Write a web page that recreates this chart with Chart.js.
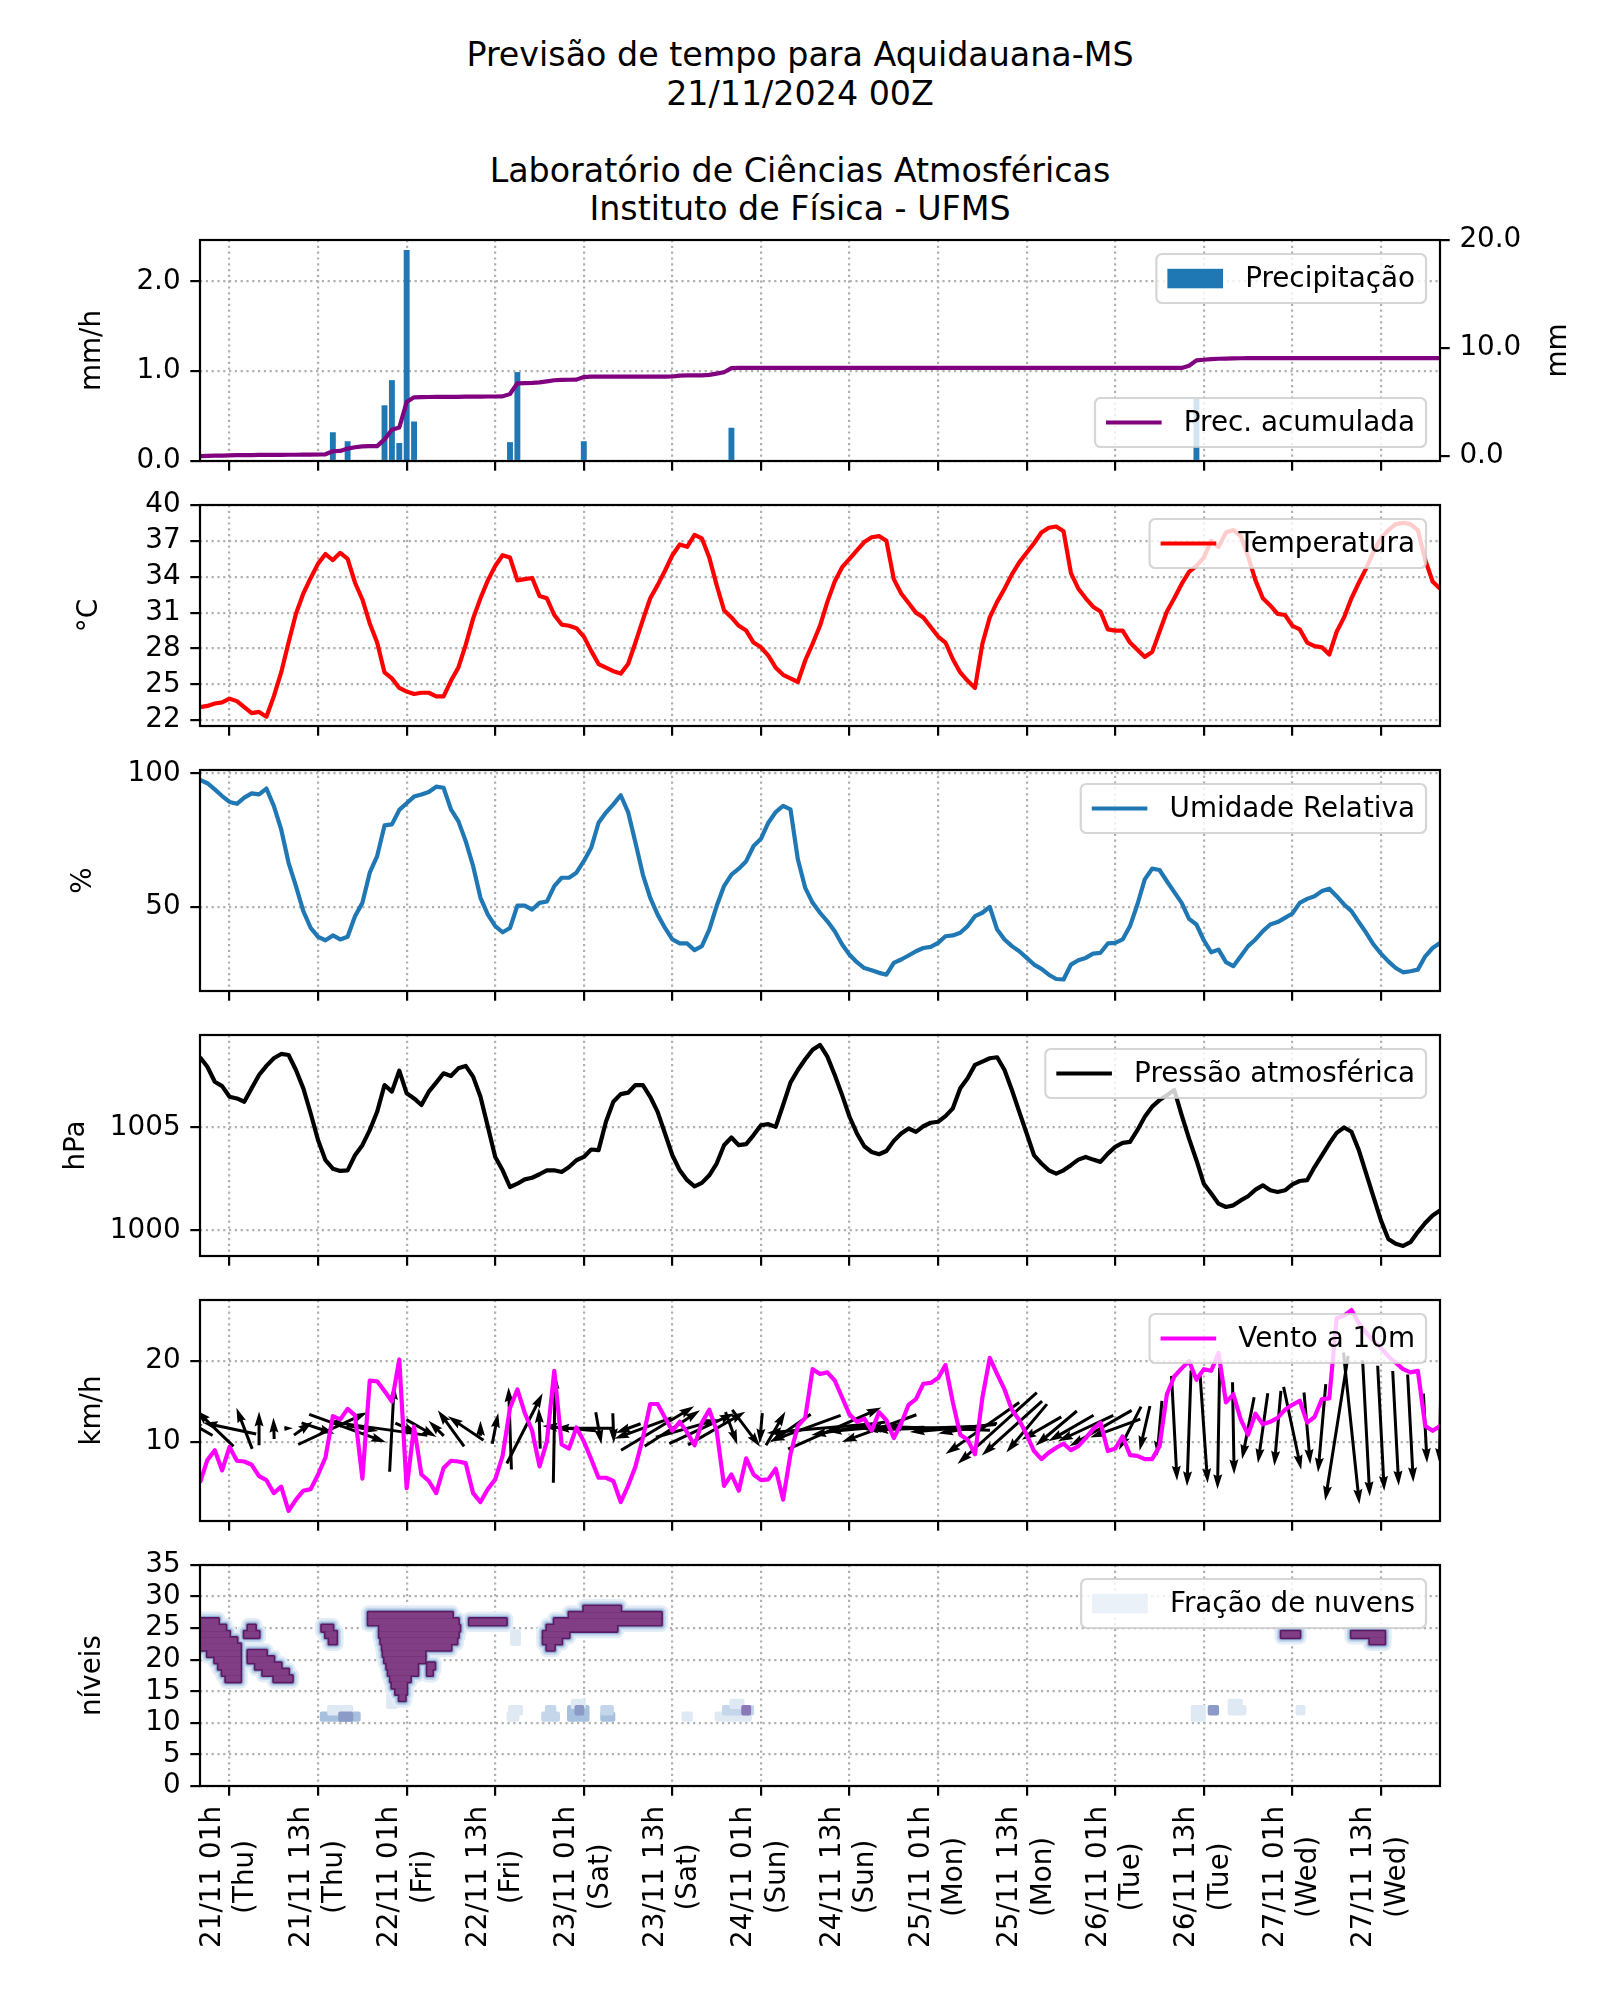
<!DOCTYPE html>
<html lang="pt-BR">
<head>
<meta charset="utf-8">
<title>Previsão de tempo para Aquidauana-MS</title>
<script src="https://cdn.jsdelivr.net/npm/chart.js@4.4.1/dist/chart.umd.min.js"></script>
<style>
  html, body { margin: 0; background: #fff; }
  #fig { position: relative; width: 1600px; height: 2000px; background: #fff; overflow: hidden; }
  #suptitle { position: absolute; left: 0; top: 36px; width: 1600px; text-align: center;
              font-family: 'DejaVu Sans', sans-serif; font-size: 33.3px; line-height: 38.5px;
              white-space: pre; color: #000; }
  #fig canvas { position: absolute; left: 0; }
</style>
</head>
<body>
<div id="fig">
<div id="suptitle">Previsão de tempo para Aquidauana-MS
21/11/2024 00Z

Laboratório de Ciências Atmosféricas
Instituto de Física - UFMS</div>
</div>
<script>
'use strict';

// horas desde 20/11 21h (hora local), passo horário
const horas = Array.from({ length: 169 }, (_, i) => i);

const tickHoras = [4, 16, 28, 40, 52, 64, 76, 88, 100, 112, 124, 136, 148, 160];
const tickDatas = ['21/11 01h', '21/11 13h', '22/11 01h', '22/11 13h', '23/11 01h', '23/11 13h',
  '24/11 01h', '24/11 13h', '25/11 01h', '25/11 13h', '26/11 01h', '26/11 13h', '27/11 01h', '27/11 13h'];
const tickDias = ['(Thu)', '(Thu)', '(Fri)', '(Fri)', '(Sat)', '(Sat)', '(Sun)', '(Sun)',
  '(Mon)', '(Mon)', '(Tue)', '(Tue)', '(Wed)', '(Wed)'];

// precipitação (mm/h), só as horas com chuva
const precipHoras = [18, 20, 25, 26, 27, 28, 29, 42, 43, 52, 72, 135];
const precipTaxa = [0.32, 0.22, 0.62, 0.90, 0.20, 2.35, 0.44, 0.21, 0.99, 0.22, 0.37, 0.69];

// precipitação acumulada (mm)
const precipAcum = [
  0.00, 0.02, 0.04, 0.05, 0.07, 0.09, 0.10, 0.10, 0.11, 0.11,
  0.12, 0.12, 0.13, 0.13, 0.14, 0.14, 0.15, 0.17, 0.45, 0.48,
  0.70, 0.82, 0.90, 0.92, 0.93, 1.55, 2.45, 2.65, 5.00, 5.44,
  5.46, 5.47, 5.48, 5.48, 5.48, 5.49, 5.50, 5.50, 5.51, 5.52,
  5.52, 5.53, 5.75, 6.74, 6.76, 6.78, 6.82, 6.92, 7.02, 7.06,
  7.07, 7.08, 7.32, 7.35, 7.35, 7.35, 7.35, 7.35, 7.35, 7.35,
  7.35, 7.35, 7.36, 7.36, 7.37, 7.45, 7.48, 7.48, 7.48, 7.52,
  7.64, 7.76, 8.14, 8.16, 8.16, 8.16, 8.16, 8.16, 8.16, 8.16,
  8.16, 8.16, 8.16, 8.16, 8.16, 8.16, 8.16, 8.16, 8.16, 8.16,
  8.16, 8.16, 8.16, 8.16, 8.16, 8.16, 8.16, 8.16, 8.16, 8.16,
  8.16, 8.16, 8.16, 8.16, 8.16, 8.16, 8.16, 8.16, 8.16, 8.16,
  8.16, 8.16, 8.16, 8.16, 8.16, 8.16, 8.16, 8.16, 8.16, 8.16,
  8.16, 8.16, 8.16, 8.16, 8.16, 8.16, 8.16, 8.16, 8.16, 8.16,
  8.16, 8.16, 8.16, 8.16, 8.36, 8.86, 8.92, 8.97, 9.01, 9.03,
  9.05, 9.06, 9.07, 9.07, 9.07, 9.07, 9.07, 9.07, 9.07, 9.07,
  9.07, 9.07, 9.07, 9.07, 9.07, 9.07, 9.07, 9.07, 9.07, 9.07,
  9.07, 9.07, 9.07, 9.07, 9.07, 9.07, 9.07, 9.07, 9.07
];

const temperatura = [
  23.1, 23.2, 23.4, 23.5, 23.8, 23.6, 23.1, 22.6, 22.7, 22.3,
  24.0, 26.0, 28.5, 30.9, 32.6, 33.9, 35.1, 35.9, 35.4, 36.0,
  35.5, 33.5, 32.1, 30.1, 28.5, 26.0, 25.5, 24.7, 24.4, 24.2,
  24.3, 24.3, 24.0, 24.0, 25.3, 26.4, 28.3, 30.5, 32.2, 33.7,
  34.9, 35.8, 35.6, 33.7, 33.8, 33.9, 32.4, 32.2, 30.8, 30.0,
  29.9, 29.7, 29.0, 27.8, 26.7, 26.4, 26.1, 25.9, 26.7, 28.5,
  30.4, 32.2, 33.3, 34.5, 35.8, 36.7, 36.5, 37.5, 37.2, 35.6,
  33.3, 31.2, 30.6, 29.9, 29.5, 28.5, 28.1, 27.4, 26.4, 25.8,
  25.5, 25.2, 27.0, 28.4, 29.9, 31.9, 33.6, 34.8, 35.5, 36.2,
  36.9, 37.3, 37.4, 37.0, 33.8, 32.6, 31.8, 31.0, 30.6, 29.8,
  29.0, 28.5, 27.1, 26.0, 25.3, 24.7, 28.4, 30.6, 31.9, 33.0,
  34.2, 35.2, 36.0, 36.8, 37.7, 38.1, 38.2, 37.8, 34.3, 33.0,
  32.2, 31.5, 31.1, 29.6, 29.5, 29.5, 28.5, 27.9, 27.3, 27.7,
  29.4, 31.1, 32.2, 33.4, 34.4, 34.9, 35.6, 37.0, 36.5, 37.7,
  37.9, 37.4, 35.7, 33.7, 32.2, 31.6, 30.9, 30.8, 29.9, 29.6,
  28.5, 28.2, 28.1, 27.5, 29.4, 30.6, 32.2, 33.5, 34.7, 36.1,
  37.2, 37.9, 38.4, 38.5, 38.4, 37.9, 35.4, 33.6, 33.0
];

const umidade = [
  97.5, 96.3, 94.0, 91.5, 89.3, 88.6, 90.9, 92.5, 92.1, 94.3,
  87.8, 79.0, 66.5, 57.8, 48.4, 42.1, 38.8, 37.5, 39.3, 37.8,
  38.8, 46.5, 51.5, 62.8, 69.0, 80.5, 80.9, 86.3, 88.8, 91.3,
  92.1, 93.0, 95.0, 94.6, 86.5, 82.1, 74.6, 65.3, 53.4, 47.1,
  42.8, 40.5, 42.1, 50.5, 50.5, 49.0, 51.5, 52.0, 57.8, 60.9,
  60.9, 62.8, 67.1, 72.1, 81.5, 85.3, 88.4, 91.8, 85.5, 74.0,
  62.1, 53.4, 47.1, 42.1, 37.8, 36.3, 36.3, 33.8, 35.3, 41.5,
  50.3, 57.8, 62.1, 64.3, 67.1, 72.8, 75.5, 81.5, 85.5, 87.8,
  86.5, 67.8, 57.1, 51.5, 47.8, 44.6, 40.9, 35.9, 32.1, 29.3,
  27.1, 26.3, 25.3, 24.6, 29.0, 30.3, 31.8, 33.4, 34.6, 35.0,
  36.5, 39.0, 39.3, 40.3, 42.8, 46.5, 47.8, 50.0, 41.5, 37.8,
  35.3, 33.4, 30.9, 28.4, 26.8, 24.6, 23.0, 22.8, 28.4, 30.0,
  30.9, 32.5, 32.8, 36.3, 36.5, 37.8, 42.8, 50.9, 60.3, 64.3,
  63.8, 59.6, 55.5, 51.5, 45.5, 43.4, 37.5, 33.0, 34.0, 29.3,
  27.8, 31.5, 35.3, 37.8, 40.9, 43.4, 44.3, 45.9, 47.5, 51.5,
  53.0, 54.0, 55.9, 56.8, 54.0, 50.9, 48.4, 44.3, 40.3, 35.9,
  32.5, 29.6, 27.1, 25.5, 25.9, 26.5, 31.5, 34.6, 36.5
];

const pressao = [
  1008.41, 1007.95, 1007.22, 1007.01, 1006.49, 1006.41, 1006.25, 1006.90, 1007.55, 1007.99,
  1008.36, 1008.57, 1008.52, 1007.79, 1006.90, 1005.68, 1004.38, 1003.41, 1003.00, 1002.89,
  1002.92, 1003.65, 1004.14, 1004.87, 1005.76, 1007.06, 1006.74, 1007.76, 1006.66, 1006.41,
  1006.09, 1006.74, 1007.18, 1007.63, 1007.50, 1007.87, 1007.99, 1007.47, 1006.49, 1005.03,
  1003.57, 1002.92, 1002.11, 1002.27, 1002.48, 1002.56, 1002.73, 1002.92, 1002.92, 1002.84,
  1003.08, 1003.41, 1003.57, 1003.93, 1003.90, 1005.28, 1006.25, 1006.62, 1006.69, 1007.06,
  1007.06, 1006.49, 1005.76, 1004.71, 1003.65, 1002.92, 1002.44, 1002.14, 1002.31, 1002.68,
  1003.25, 1004.14, 1004.51, 1004.14, 1004.19, 1004.63, 1005.11, 1005.16, 1005.03, 1006.09,
  1007.18, 1007.79, 1008.31, 1008.77, 1009.01, 1008.44, 1007.55, 1006.57, 1005.52, 1004.71,
  1004.09, 1003.81, 1003.70, 1003.86, 1004.35, 1004.71, 1004.95, 1004.79, 1005.06, 1005.23,
  1005.28, 1005.55, 1005.93, 1006.90, 1007.39, 1008.04, 1008.20, 1008.36, 1008.41, 1007.79,
  1006.82, 1005.76, 1004.71, 1003.65, 1003.25, 1002.92, 1002.76, 1002.92, 1003.17, 1003.44,
  1003.57, 1003.44, 1003.33, 1003.73, 1004.06, 1004.25, 1004.30, 1004.87, 1005.52, 1006.01,
  1006.33, 1006.57, 1006.82, 1005.60, 1004.46, 1003.41, 1002.27, 1001.79, 1001.30, 1001.14,
  1001.22, 1001.46, 1001.66, 1001.98, 1002.19, 1001.95, 1001.87, 1001.95, 1002.24, 1002.40,
  1002.44, 1003.08, 1003.65, 1004.22, 1004.74, 1005.00, 1004.79, 1003.90, 1002.76, 1001.62,
  1000.49, 999.59, 999.35, 999.25, 999.43, 999.92, 1000.36, 1000.73, 1000.97
];

// vento a 10m (km/h)
const vento = [
  5.0, 7.8, 9.0, 6.5, 9.4, 7.7, 7.6, 7.2, 5.8, 5.3,
  3.7, 4.5, 1.5, 2.9, 4.0, 4.2, 6.0, 8.1, 13.2, 12.8,
  14.1, 13.3, 5.5, 17.6, 17.5, 16.3, 15.0, 20.2, 4.3, 11.9,
  6.0, 5.2, 3.7, 6.8, 7.7, 7.6, 7.4, 3.7, 2.6, 4.2,
  5.4, 8.3, 14.2, 16.5, 13.6, 11.4, 7.0, 10.1, 18.8, 9.7,
  9.2, 11.8, 10.1, 7.9, 5.6, 5.6, 5.2, 2.6, 4.6, 7.0,
  10.5, 14.7, 14.7, 13.0, 11.4, 12.5, 11.2, 9.6, 12.4, 14.0,
  11.4, 4.6, 6.0, 4.0, 8.0, 6.0, 5.3, 5.4, 6.7, 2.9,
  8.5, 12.0, 13.0, 19.0, 18.4, 18.6, 17.6, 15.5, 13.4, 12.5,
  12.9, 11.4, 13.7, 12.7, 10.5, 12.3, 14.6, 15.3, 17.2, 17.3,
  17.9, 19.5, 14.9, 10.9, 10.3, 8.5, 15.5, 20.4, 18.4, 16.5,
  14.0, 12.7, 10.9, 8.9, 7.9, 8.7, 9.3, 9.8, 9.0, 9.5,
  10.5, 11.6, 12.4, 8.9, 9.2, 10.7, 8.4, 8.3, 7.9, 7.9,
  9.5, 15.9, 18.1, 19.1, 20.0, 17.7, 19.0, 18.8, 21.0, 14.9,
  15.9, 12.8, 10.9, 13.5, 12.2, 12.5, 13.0, 14.0, 14.6, 15.1,
  12.4, 13.1, 15.3, 15.4, 25.3, 25.6, 26.3, 24.7, 23.5, 22.5,
  21.6, 20.6, 19.8, 19.0, 18.6, 18.8, 12.0, 11.4, 12.0
];

// direção das setas (graus na tela: 0 = direita, 90 = cima), uma seta a cada 2 h
const ventoDirSeta = [
  150, 136, 168, 111, 90, 92, 0, 36, 342, 25,
  340, 350, 172, 87, 335, 330, 135, 126, 146, 90,
  79, 92, 63, 92, 89, 175, 180, 280, 272, 200,
  200, 31, 33, 16, 25, 30, 290, 307, 265, 60,
  215, 200, 185, 24, 190, 185, 200, 182, 180, 182,
  178, 185, 190, 215, 222, 222, 230, 210, 220, 210,
  205, 210, 200, 243, 257, 265, 273, 268, 274, 269,
  271, 259, 262, 265, 282, 275, 265, 261, 276, 273,
  273, 273, 273, 273, 269
];
const SETA_PASSO = 2;
const SETA_Y = 11.7;

// fração de nuvens: [nível, hora inicial, hora final]  (núcleo ~ 1.0)
const nuvensNucleo = [
  [26, 0, 2.5], [25, 0, 3.5], [24, 0, 4], [23, 0, 5], [22, 0, 5.5], [21, 1, 5.5],
  [20, 2, 5.5], [19, 2.5, 5.5], [18, 3, 5.5], [17, 3.5, 5.5],
  [25, 6.5, 7.5], [24, 6, 8],
  [21, 6.5, 9], [20, 6.5, 10], [19, 7.5, 11], [18, 8.5, 12], [17, 10, 12.5],
  [25, 16.5, 18], [24, 17, 18.5], [23, 17.5, 18.5],
  [27, 22.8, 34.2], [26, 22.8, 35], [25, 24.3, 35.2], [24, 24.3, 35], [23, 24.5, 34.8],
  [22, 24.7, 34], [21, 24.8, 30.5], [20, 25, 30.5], [19, 25.3, 29.5], [18, 25.5, 29.5],
  [17, 25.8, 28.5], [16, 26, 28], [15, 26.5, 28], [14, 27, 27.8],
  [19, 30.8, 31.8], [18, 30.8, 31.5],
  [26, 36.5, 41.5],
  [28, 52, 57], [27, 50, 62.5], [26, 48, 62.5], [25, 47, 56.5], [24, 46.5, 50],
  [23, 46.5, 49], [22, 47, 48],
  [24, 146.5, 149],
  [24, 156, 160.5], [23, 158.5, 160.5]
];
// nuvens fracas: [nível, hora inicial, hora final, fração]
const nuvensFracas = [
  [11, 16.5, 21.5, 0.4], [12, 17.5, 20.5, 0.25], [11, 19, 20.5, 0.6],
  [13, 25.5, 26.5, 0.2], [14, 25.5, 26.5, 0.2],
  [12, 42, 43.5, 0.25], [11, 41.8, 43, 0.2], [24, 42.3, 43.2, 0.2], [23, 42.3, 43.2, 0.2],
  [11, 46.5, 48.5, 0.35], [12, 47, 48, 0.3],
  [11, 50, 52.5, 0.4], [12, 50, 52.5, 0.45], [13, 50.5, 52, 0.25], [12, 51, 51.8, 0.65],
  [11, 54.5, 56, 0.4], [12, 54.5, 55.8, 0.3],
  [11, 65.5, 66.5, 0.2],
  [11, 70, 74.5, 0.25], [12, 71, 74.8, 0.3], [13, 72, 73.5, 0.2], [12, 73.6, 74.4, 0.75],
  [11, 134.5, 136, 0.2], [12, 134.5, 136, 0.2], [12, 136.8, 137.8, 0.6],
  [12, 139.5, 141.5, 0.25], [13, 139.5, 141, 0.2],
  [12, 148.7, 149.5, 0.25]
];

// ---------------------------------------------------------------------------
const FONTE = "'DejaVu Sans', sans-serif";
const FS = 27.8;
Chart.defaults.font.family = FONTE;
Chart.defaults.font.size = FS;
Chart.defaults.color = '#000';

const TOPOS = [240, 505, 770, 1035, 1300, 1565];
const ALTURA = 221;
const MARGEM_SUP = 40;

const grade = { color: '#b0b0b0', lineWidth: 2.2, tickColor: '#000', tickWidth: 2.2, tickLength: 9.7 };
const borda = { display: false, dash: [2.2, 3.6] };

const serie = valores => valores.map((v, i) => ({ x: horas[i], y: v }));

function eixoX(altura) {
    return {
        type: 'linear', min: 0, max: 168, offset: false,
        afterBuildTicks: s => { s.ticks = tickHoras.map(v => ({ value: v })); },
        afterFit: s => { s.height = altura; },
        ticks: { display: false },
        grid: { ...grade, offset: false }, border: borda
    };
}

function eixoY(min, max, ticks, casas, titulo, tituloX) {
    return {
        type: 'linear', position: 'left', min, max,
        afterBuildTicks: s => { s.ticks = ticks.map(v => ({ value: v })); },
        afterFit: s => { s.width = 200; },
        ticks: { padding: 9.7, autoSkip: false, callback: v => v.toFixed(casas) },
        grid: grade, border: borda,
        title: { display: true, text: titulo, padding: { top: tituloX - FS * 0.6, bottom: 0 } }
    };
}

function caixaArred(ctx, x, y, w, h, r) {
    ctx.beginPath();
    ctx.moveTo(x + r, y);
    ctx.arcTo(x + w, y, x + w, y + h, r);
    ctx.arcTo(x + w, y + h, x, y + h, r);
    ctx.arcTo(x, y + h, x, y, r);
    ctx.arcTo(x, y, x + w, y, r);
    ctx.closePath();
}

const moldura = {
    id: 'moldura',
    afterDatasetsDraw(chart) {
        const { ctx, chartArea: a } = chart;
        ctx.save();
        ctx.strokeStyle = '#000';
        ctx.lineWidth = 2.2;
        ctx.strokeRect(a.left, a.top, a.right - a.left, a.bottom - a.top);
        ctx.restore();
    }
};

const legendaCaixa = {
    id: 'legendaCaixa',
    afterDatasetsDraw(chart) {
        const { ctx, chartArea: a } = chart;
        chart.data.datasets.forEach(ds => {
            if (!ds.legendPos) return;
            ctx.save();
            ctx.font = `${FS}px ${FONTE}`;
            const tw = ctx.measureText(ds.label).width;
            const w = 11 + 55.6 + 22.2 + tw + 11;
            const h = 49;
            const x = a.right - 14 - w;
            const y = ds.legendPos === 'lower' ? a.bottom - 14 - h : a.top + 14;
            caixaArred(ctx, x, y, w, h, 5.6);
            ctx.fillStyle = 'rgba(255,255,255,0.8)';
            ctx.fill();
            ctx.strokeStyle = 'rgba(204,204,204,0.8)';
            ctx.lineWidth = 2.2;
            ctx.stroke();
            const cy = y + h / 2;
            const hx = x + 11;
            if (ds.legendPatch) {
                ctx.fillStyle = ds.legendPatch;
                ctx.fillRect(hx, cy - 9.7, 55.6, 19.5);
            } else {
                ctx.strokeStyle = ds.borderColor;
                ctx.lineWidth = 4.2;
                ctx.beginPath();
                ctx.moveTo(hx, cy);
                ctx.lineTo(hx + 55.6, cy);
                ctx.stroke();
            }
            ctx.fillStyle = '#000';
            ctx.textBaseline = 'middle';
            ctx.textAlign = 'left';
            ctx.fillText(ds.label, hx + 55.6 + 22.2, cy + 1);
            ctx.restore();
        });
    }
};

const tituloDireito = {
    id: 'tituloDireito',
    afterDraw(chart) {
        const { ctx, chartArea: a } = chart;
        ctx.save();
        ctx.font = `${FS}px ${FONTE}`;
        ctx.fillStyle = '#000';
        ctx.textAlign = 'center';
        ctx.textBaseline = 'middle';
        ctx.translate(1559, (a.top + a.bottom) / 2);
        ctx.rotate(-Math.PI / 2);
        ctx.fillText('mm', 0, 0);
        ctx.restore();
    }
};

const rotulosData = {
    id: 'rotulosData',
    afterDraw(chart) {
        const { ctx, chartArea: a, scales: { x } } = chart;
        ctx.save();
        ctx.font = `${FS}px ${FONTE}`;
        ctx.fillStyle = '#000';
        ctx.textAlign = 'center';
        ctx.textBaseline = 'middle';
        x.ticks.forEach((t, i) => {
            const linhas = [tickDatas[i], tickDias[i]];
            const w = Math.max(...linhas.map(s => ctx.measureText(s).width));
            ctx.save();
            ctx.translate(x.getPixelForValue(t.value), a.bottom + 20);
            ctx.rotate(-Math.PI / 2);
            linhas.forEach((s, j) => ctx.fillText(s, -w / 2, (j - 0.5) * 33.4));
            ctx.restore();
        });
        ctx.restore();
    }
};

function seta(ctx, cx, cy, dx, dy) {
    const L = Math.hypot(dx, dy);
    if (L < 0.5) return;
    const ux = dx / L, uy = dy / L, nx = -uy, ny = ux;
    const w = 3;
    let hl = 15, hw = 9, ha = 13.5;
    if (L < hl) { const k = L / hl; hl *= k; hw *= k; ha *= k; }
    const tx = cx - dx / 2, ty = cy - dy / 2;
    const pts = [[0, w / 2], [L - ha, w / 2], [L - hl, hw / 2], [L, 0], [L - hl, -hw / 2], [L - ha, -w / 2], [0, -w / 2]];
    ctx.beginPath();
    pts.forEach(([s, t], i) => {
        const X = tx + ux * s + nx * t, Y = ty + uy * s + ny * t;
        if (i) ctx.lineTo(X, Y); else ctx.moveTo(X, Y);
    });
    ctx.closePath();
    ctx.fill();
}

const setasVento = {
    id: 'setasVento',
    beforeDatasetsDraw(chart) {
        const { ctx, chartArea: a, scales: { x, y } } = chart;
        const pxPorKmh = 5.8;
        ctx.save();
        ctx.beginPath();
        ctx.rect(a.left, a.top, a.right - a.left, a.bottom - a.top);
        ctx.clip();
        ctx.fillStyle = '#000';
        ventoDirSeta.forEach((graus, k) => {
            const h = horas[k * SETA_PASSO];
            const L = pxPorKmh * vento[h];
            const rad = graus * Math.PI / 180;
            seta(ctx, x.getPixelForValue(h), y.getPixelForValue(SETA_Y), L * Math.cos(rad), -L * Math.sin(rad));
        });
        ctx.restore();
    }
};

function corNuvem(f) {
    if (f >= 0.7) return '#8a78b8';
    if (f >= 0.55) return '#8c9ac8';
    if (f >= 0.4) return '#a6c0dd';
    if (f >= 0.3) return '#c3d6ea';
    return '#dfe9f4';
}

const nuvens = {
    id: 'nuvens',
    beforeDatasetsDraw(chart) {
        const { ctx, chartArea: a, scales: { x, y } } = chart;
        const ret = ([nivel, h0, h1]) => {
            const x0 = x.getPixelForValue(h0), x1 = x.getPixelForValue(h1);
            const y0 = y.getPixelForValue(nivel + 0.5), y1 = y.getPixelForValue(nivel - 0.5);
            return [x0, y0, x1 - x0, y1 - y0];
        };
        ctx.save();
        ctx.beginPath();
        ctx.rect(a.left, a.top, a.right - a.left, a.bottom - a.top);
        ctx.clip();
        ctx.lineJoin = 'round';
        nuvensFracas.forEach(r => {
            const [px, py, w, h] = ret(r);
            ctx.fillStyle = corNuvem(r[3]);
            ctx.strokeStyle = corNuvem(r[3]);
            ctx.lineWidth = 4;
            ctx.fillRect(px, py, w, h);
            ctx.strokeRect(px, py, w, h);
        });
        [['#e3edf6', 14], ['#c2d5ea', 9], ['#93aed6', 5.5], ['#5a1a60', 3.2]].forEach(([cor, lw]) => {
            ctx.strokeStyle = cor;
            ctx.lineWidth = lw;
            nuvensNucleo.forEach(r => { const [px, py, w, h] = ret(r); ctx.strokeRect(px, py, w, h); });
        });
        ctx.fillStyle = '#823e84';
        nuvensNucleo.forEach(r => { const [px, py, w, h] = ret(r); ctx.fillRect(px, py, w, h); });
        ctx.restore();
    }
};

function painel(i, datasets, scales, extras) {
    const baixo = i === 5 ? 2000 - (TOPOS[i] + ALTURA) : 30;
    const alt = MARGEM_SUP + ALTURA + baixo;
    const cv = document.createElement('canvas');
    cv.width = 1600;
    cv.height = alt;
    cv.style.width = '1600px';
    cv.style.height = alt + 'px';
    cv.style.top = (TOPOS[i] - MARGEM_SUP) + 'px';
    document.getElementById('fig').appendChild(cv);
    scales.x = eixoX(baixo);
    return new Chart(cv, {
        type: 'line',
        data: { datasets },
        options: {
            responsive: false,
            animation: false,
            devicePixelRatio: 1,
            layout: { padding: { top: MARGEM_SUP, left: 0, right: scales.y2 ? 0 : 160, bottom: 0 } },
            plugins: { legend: { display: false }, tooltip: { enabled: false } },
            elements: { point: { radius: 0 }, line: { borderWidth: 4.2, borderJoinStyle: 'round' } },
            scales
        },
        plugins: [...extras, moldura, legendaCaixa]
    });
}

// 1 - precipitação
painel(0, [
    { type: 'line', label: 'Prec. acumulada', data: serie(precipAcum), yAxisID: 'y2',
      borderColor: '#800080', order: 0, legendPos: 'lower' },
    { type: 'bar', label: 'Precipitação', data: precipHoras.map((h, k) => ({ x: h, y: precipTaxa[k] })),
      yAxisID: 'y', backgroundColor: '#1f77b4', barPercentage: 1, categoryPercentage: 0.8,
      order: 1, legendPos: 'upper', legendPatch: '#1f77b4' }
], {
    y: eixoY(0, 2.46, [0, 1, 2], 1, 'mm/h', 93),
    y2: {
        type: 'linear', position: 'right', min: -0.45, max: 20,
        afterBuildTicks: s => { s.ticks = [0, 10, 20].map(v => ({ value: v })); },
        afterFit: s => { s.width = 160; },
        ticks: { padding: 9.7, autoSkip: false, callback: v => v.toFixed(1) },
        grid: { ...grade, drawOnChartArea: false }, border: borda
    }
}, [tituloDireito]);

// 2 - temperatura
painel(1, [
    { label: 'Temperatura', data: serie(temperatura), borderColor: '#ff0000', legendPos: 'upper' }
], { y: eixoY(21.52, 40, [22, 25, 28, 31, 34, 37, 40], 0, '°C', 90) }, []);

// 3 - umidade
painel(2, [
    { label: 'Umidade Relativa', data: serie(umidade), borderColor: '#1f77b4', legendPos: 'upper' }
], { y: eixoY(18.5, 101.25, [50, 100], 0, '%', 84) }, []);

// 4 - pressão
painel(3, [
    { label: 'Pressão atmosférica', data: serie(pressao), borderColor: '#000000', legendPos: 'upper' }
], { y: eixoY(998.76, 1009.49, [1000, 1005], 0, 'hPa', 77) }, []);

// 5 - vento
painel(4, [
    { label: 'Vento a 10m', data: serie(vento), borderColor: '#ff00ff', legendPos: 'upper' }
], { y: eixoY(0.26, 27.54, [10, 20], 0, 'km/h', 93) }, [setasVento]);

// 6 - nuvens
painel(5, [
    { label: 'Fração de nuvens', data: [], borderColor: '#e9f0f8', legendPos: 'upper', legendPatch: '#eaf1f8' }
], { y: eixoY(0, 35, [0, 5, 10, 15, 20, 25, 30, 35], 0, 'níveis', 93) }, [nuvens, rotulosData]);
</script>
</body>
</html>
